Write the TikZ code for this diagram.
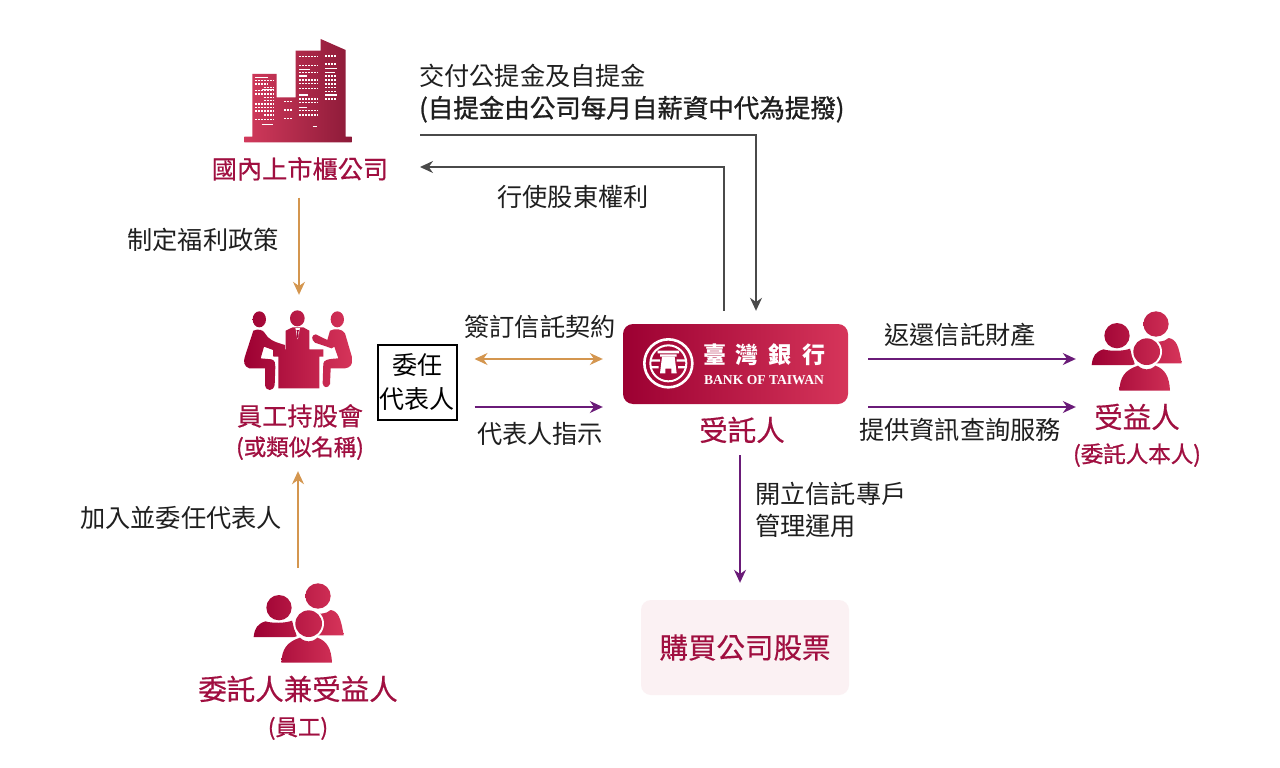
\documentclass[tikz,border=0pt]{standalone}
\usepackage{fontspec}
\setmainfont{Noto Sans CJK TC}
\newfontfamily\medfont[FakeBold=0.4]{Noto Sans CJK TC}
\newfontfamily\boldishfont[FakeBold=1.0]{Noto Sans CJK TC}
\newfontfamily\logoserif{Liberation Serif}
\usetikzlibrary{arrows.meta,calc}
\definecolor{maroon}{HTML}{A00F40}
\definecolor{gradL}{HTML}{9C0032}
\definecolor{gradR}{HTML}{D6355A}
\definecolor{towerL}{HTML}{D23A5C}
\definecolor{towerR}{HTML}{8C1A38}
\definecolor{arrOrange}{HTML}{D4964F}
\definecolor{arrPurple}{HTML}{6A1B78}
\definecolor{arrGrey}{HTML}{4A4A4A}
\definecolor{softPink}{HTML}{FBF1F3}
\tikzset{
  x=1pt,y=-1pt,
  tip/.style={-{Stealth[length=13pt,width=12pt]}},
  link/.style={line width=1.4pt,tip},
  greylink/.style={link,draw=arrGrey},
  orangelink/.style={link,draw=arrOrange},
  purplelink/.style={link,draw=arrPurple},
  lab/.style={inner sep=0pt,text height=22pt,text depth=3pt,font=\fontsize{25.2}{25}\selectfont,text=black!88},
  boldlab/.style={lab,font=\fontsize{25.5}{25}\boldishfont},
  head/.style={inner sep=0pt,text height=22pt,text depth=3pt,font=\fontsize{25.2}{25}\medfont,text=maroon},
  bighead/.style={inner sep=0pt,text height=25pt,text depth=3.4pt,font=\fontsize{28.5}{28}\medfont,text=maroon},
  sub/.style={inner sep=0pt,text height=19.4pt,text depth=2.6pt,font=\fontsize{22.5}{22}\boldishfont,text=maroon},
  hidden/.style={inner sep=0pt,draw=none,fill=none},
  win/.style={line width=1.2pt,draw=white,dash pattern=on 1.9pt off 1.1pt},
  winbar/.style={line width=1.2pt,draw=white},
}
\newcommand{\gshape}[5]{\begin{scope}\clip #5;\shade[left color=gradL,right color=gradR] (#1,#2) rectangle (#3,#4);\end{scope}}
\newcommand{\crowd}{%
  \gshape{65}{30}{335}{275}{(258,72) circle (38) (235,190) -- (235,122) .. controls (255,128) and (285,126) .. (296,114) .. controls (318,118) and (326,135) .. (335,190) -- cycle}
  \gshape{65}{30}{335}{275}{(141,107) circle (38) (65,195) .. controls (68,168) and (76,156) .. (100,148) .. controls (120,154) and (160,154) .. (180,146) -- (195,195) -- cycle}
  \fill[white] (230,155) circle (46);
  \fill[white] (142,278) .. controls (145,225) and (160,200) .. (205,190) -- (255,190) .. controls (295,205) and (305,230) .. (306,278) -- cycle;
  \gshape{65}{30}{335}{275}{(230,155) circle (40) (148,272) .. controls (150,230) and (165,210) .. (204,197) .. controls (220,212) and (240,212) .. (256,197) .. controls (285,207) and (298,230) .. (300,272) -- cycle}
}
\begin{document}
\begin{tikzpicture}
\useasboundingbox (0,0) rectangle (1280,768);
\fill[white] (0,0) rectangle (1280,768);

% ---- buildings
\begin{scope}[shift={(220,20)},x=1/3*1pt,y=-1/3*1pt]
  \begin{scope}
    \clip (97,162) -- (170,162) -- (170,232) -- (227,232) -- (227,92) -- (302,92) -- (302,57) -- (377,90) -- (377,350) -- (395,350) -- (395,367) -- (73,367) -- (73,350) -- (97,350) -- cycle;
    \shade[left color=towerL,right color=towerR] (73,55) rectangle (395,368);
  \end{scope}
  \foreach \y in {212,222,252,262,273,298} \draw[win] (105,\y) -- (162,\y);
  \foreach \y in {182,202,232,242,285} \draw[win] (132,\y) -- (162,\y);
  \foreach \y in {182,192} \draw[win] (105,\y) -- (145,\y);
  \draw[winbar] (105,172) -- (145,172) (125,208) -- (162,208) (125,314) -- (160,314);
  \foreach \y in {245,270,295} \draw[win] (192,\y) -- (218,\y);
  \foreach \y in {110,137,158,180,190,205,237,247,272,285} \draw[win] (237,\y) -- (295,\y);
  \draw[winbar] (237,148) -- (270,148) (237,168) -- (262,168) (237,225) -- (265,225) (237,262) -- (262,262) (278,320) -- (292,320);
  \foreach \y in {108,132,168,180,192,203,215,237} \draw[win] (315,\y) -- (350,\y);
  \draw[winbar] (315,145) -- (350,145) (315,158) -- (345,158) (315,225) -- (350,225);
\end{scope}

% ---- meeting icon
\begin{scope}[shift={(220,300)},x=1/3*1pt,y=-1/3*1pt]
  \gshape{70}{30}{398}{272}{(118,58) ellipse (20 and 24) (232,55) ellipse (22 and 24) (352,58) ellipse (20 and 24)}
  \gshape{70}{30}{398}{272}{(100,92) .. controls (115,85) and (130,90) .. (135,100) .. controls (145,118) and (160,125) .. (195,135) -- (195,152) -- (165,152) -- (132,140) -- (122,175) -- (155,178) .. controls (165,182) and (166,190) .. (166,200) -- (164,255) .. controls (160,275) and (138,275) .. (135,255) -- (135,205) -- (88,205) .. controls (72,200) and (70,185) .. (74,172) -- cycle}
  \gshape{70}{30}{398}{272}{(330,92) .. controls (345,85) and (365,85) .. (375,100) -- (397,175) .. controls (398,192) and (392,203) .. (375,205) -- (332,205) -- (330,252) .. controls (325,265) and (310,265) .. (308,250) -- (310,190) .. controls (312,180) and (322,177) .. (355,175) -- (343,140) -- (335,145) -- (285,128) .. controls (272,118) and (275,105) .. (287,103) -- (322,120) -- cycle}
  \gshape{70}{30}{398}{272}{(197,138) -- (197,92) -- (218,82) -- (250,82) -- (268,92) -- (268,148) -- (310,148) -- (310,170) -- (298,170) -- (298,265) -- (175,265) -- (175,170) -- (160,170) -- (160,148) -- (197,148) -- cycle}
  \fill[white] (226,84) -- (240,84) -- (238,92) -- (236,108) -- (233,118) -- (230,108) -- (228,92) -- cycle;
  \fill[gradL!85!gradR] (229,90) -- (237,90) -- (235,96) -- (236,110) -- (233,114) -- (230,110) -- (231,96) -- cycle;
\end{scope}

% ---- crowd icons
\begin{scope}[shift={(1070,300)},x=1/3*1pt,y=-1/3*1pt] \crowd \end{scope}
\begin{scope}[shift={(232,572)},x=1/3*1pt,y=-1/3*1pt] \crowd \end{scope}

% ---- bank
\node[hidden,rounded corners=10pt,left color=gradL,right color=gradR,minimum width=225pt,minimum height=80pt] (bank) at (735.5,364) {};
\begin{scope}[shift={(610,310)},x=1/3*1pt,y=-1/3*1pt]
  \draw[white,line width=2.6pt] (175,160) circle (72);
  \draw[white,line width=2pt] (175,160) circle (54);
  \fill[white] (122,148) rectangle (150,155) (200,148) rectangle (228,155) (122,168) rectangle (146,175) (204,168) rectangle (228,175);
  \fill[white] (143,122) rectangle (207,130) (150,133) rectangle (200,140);
  \fill[white] (156,140) -- (194,140) -- (200,190) -- (184,190) -- (184,176) -- (166,176) -- (166,190) -- (150,190) -- cycle;
\end{scope}
\node[inner sep=0pt,text=white,font=\fontsize{23}{23}\selectfont\bfseries] (banktc) at (764,355) {臺\hspace{10pt}灣\hspace{10pt}銀\hspace{10pt}行};
\node[inner sep=0pt,text=white,font=\fontsize{13.6}{14}\logoserif\bfseries] (banken) at (764,380) {BANK OF TAIWAN};

% ---- text nodes
\node[head] (company) at (300,169) {國內上市櫃公司};
\node[hidden,minimum width=110pt,minimum height=95pt] (esopicon) at (299,342.5) {};
\node[head] (esop) at (300,416) {員工持股會};
\node[sub] (esopsub) at (300,447) {(或類似名稱)};
\node[hidden,minimum width=90pt,minimum height=80pt] (staffcicon) at (298,623) {};
\node[bighead] (staff) at (298,689) {委託人兼受益人};
\node[sub] (staffsub) at (298,727) {(員工)};
\node[bighead] (trustee) at (742,430) {受託人};
\node[hidden,minimum width=122pt,minimum height=60pt] (benicon) at (1137,345) {};
\node[bighead] (benef) at (1137,417) {受益人};
\node[sub] (benefsub) at (1137,454) {(委託人本人)};
\node[rectangle,draw=black,line width=2pt,inner sep=0pt,minimum width=79pt,minimum height=75pt,align=center,font=\fontsize{25}{34}\selectfont,text=black] (rep) at (417,382) {委任\\代表人};
\node[bighead,rounded corners=10pt,fill=softPink,minimum width=208pt,minimum height=95pt] (buy) at (745,647.5) {購買公司股票};

\node[lab,anchor=west] (pay1) at (419,76) {交付公提金及自提金};
\node[boldlab,anchor=west] (pay2) at (419,108) {(自提金由公司每月自薪資中代為提撥)};
\node[lab] (rights) at (573,197) {行使股東權利};
\node[lab] (policy) at (203,240) {制定福利政策};
\node[lab] (sign) at (540,327) {簽訂信託契約};
\node[lab] (instr) at (540,434) {代表人指示};
\node[lab] (join) at (181,518) {加入並委任代表人};
\node[lab] (ret) at (960,335) {返還信託財產};
\node[lab] (info) at (960,430) {提供資訊查詢服務};
\node[lab,anchor=west] (acct1) at (755,494) {開立信託專戶};
\node[lab,anchor=west] (acct2) at (755,526) {管理運用};

% ---- connectors
\coordinate (payStart) at (420,135);
\coordinate (rightsEnd) at (420,167);
\draw[greylink,shorten >=13pt] (payStart) -| ([xshift=20.5pt]bank.north);
\draw[greylink,shorten <=13pt] ([xshift=-11.5pt]bank.north) |- (rightsEnd);
\draw[orangelink,shorten <=16pt] (esopicon.north |- company.south) -- (esopicon.north);
\draw[orangelink,shorten <=15pt,shorten >=13pt] (staffcicon.north) -- (staffcicon.north |- esopsub.south);
\draw[link,draw=arrOrange,{Stealth[length=13pt,width=12pt]}-{Stealth[length=13pt,width=12pt]},shorten <=17pt,shorten >=20pt] ([yshift=23pt]rep.east) -- ([yshift=23pt]rep.east -| bank.west);
\draw[purplelink,shorten <=17pt,shorten >=20pt] ([yshift=-25pt]rep.east) -- ([yshift=-25pt]rep.east -| bank.west);
\draw[purplelink,shorten <=20pt] ([yshift=5pt]bank.east) -- ([yshift=5pt]bank.east -| benicon.west);
\draw[purplelink,shorten <=20pt] ([yshift=-43pt]bank.east) -- ([yshift=-43pt]bank.east -| benicon.west);
\draw[purplelink,shorten <=11pt,shorten >=17pt] ([xshift=-5pt]buy.north |- trustee.south) -- ([xshift=-5pt]buy.north);
\end{tikzpicture}
\end{document}
